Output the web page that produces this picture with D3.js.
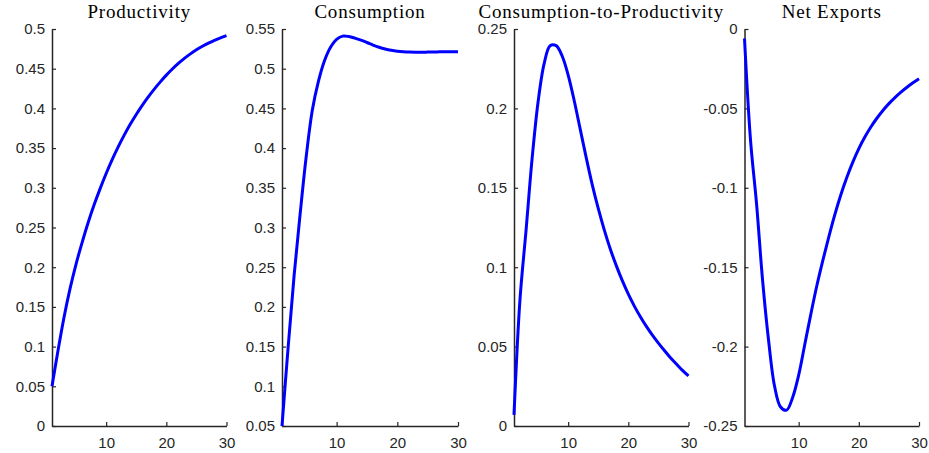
<!DOCTYPE html>
<html>
<head>
<meta charset="utf-8">
<script src="https://cdn.jsdelivr.net/npm/d3@7"></script>
<style>
  body { margin: 0; background: #fff; }
  .tick text { font-family: "Liberation Sans", Arial, sans-serif; font-size: 15px; fill: #262626; }
  .title { font-family: "Liberation Serif", "DejaVu Serif", serif; font-size: 19px; letter-spacing: 0.8px; fill: #000; }
</style>
</head>
<body>
<svg class="chart" width="929" height="453"></svg>
<script>
const periods = d3.range(1, 31);

const productivity = [0.05, 0.095, 0.137, 0.173, 0.204, 0.231, 0.256, 0.2785, 0.299, 0.318,
  0.3355, 0.3515, 0.3663, 0.3799, 0.3924, 0.4039, 0.4145, 0.4243, 0.4334, 0.4419,
  0.4496, 0.4566, 0.463, 0.4687, 0.4738, 0.4783, 0.4823, 0.4858, 0.4889, 0.4916];

const consumption = [0.05, 0.148, 0.240, 0.318, 0.390, 0.448, 0.484, 0.510, 0.527, 0.537,
  0.541, 0.5405, 0.5385, 0.536, 0.533, 0.5298, 0.527, 0.5248, 0.5232, 0.5221,
  0.5214, 0.521, 0.5208, 0.5208, 0.5209, 0.521, 0.5212, 0.5213, 0.5214, 0.5215];

const consumptionToProductivity = [0.007, 0.08, 0.123, 0.168, 0.204, 0.228, 0.2395, 0.2395, 0.233, 0.221,
  0.205, 0.187, 0.169, 0.152, 0.137, 0.1235, 0.1115, 0.101, 0.0915, 0.083,
  0.0755, 0.0688, 0.0627, 0.0572, 0.0522, 0.0475, 0.043, 0.039, 0.035, 0.0315];

const netExports = [-0.006, -0.07, -0.11, -0.158, -0.196, -0.225, -0.238, -0.240, -0.232, -0.218,
  -0.199, -0.180, -0.162, -0.146, -0.131, -0.117, -0.1045, -0.0935, -0.0838, -0.0753,
  -0.068, -0.0617, -0.0562, -0.0513, -0.047, -0.0432, -0.0398, -0.0367, -0.0339, -0.0313];

const titles = ['Productivity', 'Consumption', 'Consumption-to-Productivity', 'Net Exports'];
const series = [productivity, consumption, consumptionToProductivity, netExports];
const yDomains = [[0, 0.5], [0.05, 0.55], [0, 0.25], [-0.25, 0]];
const xTicks = [10, 20, 30];

const chart = d3.select('.chart');
const panelLeft = [52, 282, 514, 744.5];
const panelRight = [226.5, 458, 688.5, 919];
const plotTop = 29, plotBottom = 426;

const fmt = d => String(+d.toFixed(2));

series.forEach((vals, i) => {
    const xScale = d3.scaleLinear().domain([1, 30]).range([panelLeft[i], panelRight[i]]);
    const yScale = d3.scaleLinear().domain(yDomains[i]).range([plotBottom, plotTop]);
    const g = chart.append('g');

    const yTicks = d3.range(0, 11).map(k => yDomains[i][0] + k * 0.05)
        .filter(v => v <= yDomains[i][1] + 1e-9);

    const ya = g.append('g')
        .attr('transform', `translate(${panelLeft[i]},0)`)
        .call(d3.axisLeft(yScale).tickValues(yTicks).tickFormat(fmt).tickSizeInner(-4).tickSizeOuter(0).tickPadding(7));
    const xa = g.append('g')
        .attr('transform', `translate(0,${plotBottom})`)
        .call(d3.axisBottom(xScale).tickValues(xTicks).tickFormat(d3.format('d')).tickSizeInner(-4).tickSizeOuter(0).tickPadding(8));
    [ya, xa].forEach(a => {
        a.selectAll('path, line').attr('stroke', '#262626').attr('stroke-width', 1.2);
        a.select('.domain').attr('stroke-width', 1.5);
    });
    xa.selectAll('text').attr('dy', '0.95em');

    const line = d3.line()
        .x((d, j) => xScale(periods[j]))
        .y(d => yScale(d))
        .curve(d3.curveCatmullRom.alpha(0.5));

    g.append('path')
        .datum(vals)
        .attr('fill', 'none')
        .attr('stroke', '#0000ff')
        .attr('stroke-width', 3)
        .attr('d', line);

    g.append('text')
        .attr('class', 'title')
        .attr('x', (panelLeft[i] + panelRight[i]) / 2)
        .attr('y', 18)
        .attr('text-anchor', 'middle')
        .text(titles[i]);
});
</script>
</body>
</html>
